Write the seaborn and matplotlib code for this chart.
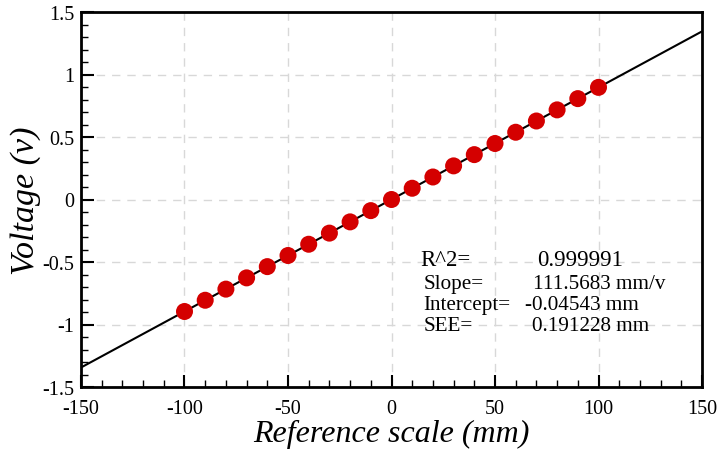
import numpy as np
import pandas as pd
import matplotlib
matplotlib.use("Agg")
import matplotlib.pyplot as plt
import seaborn as sns
from matplotlib.ticker import MultipleLocator

# Calibration readings: reference scale position (mm) vs. sensor voltage (v)
position_mm = [-100, -90, -80, -70, -60, -50, -40, -30, -20, -10, 0,
               10, 20, 30, 40, 50, 60, 70, 80, 90, 100]
voltage_v = [-0.896, -0.806, -0.717, -0.627, -0.537, -0.448, -0.358, -0.269,
             -0.179, -0.089, 0.000, 0.090, 0.180, 0.269, 0.359, 0.448, 0.538,
             0.628, 0.717, 0.807, 0.897]

# Linear fit results (position = slope * voltage + intercept)
r_squared = 0.999991
slope_mm_per_v = 111.5683
intercept_mm = -0.04543
see_mm = 0.191228
fit_range_mm = [-150, 150]

sns.set_theme(style="white")
plt.rcParams["font.family"] = ["Liberation Serif", "DejaVu Serif"]
plt.rcParams.update({"text.color": "black", "axes.labelcolor": "black",
                     "xtick.color": "black", "ytick.color": "black"})

points = pd.DataFrame({"position": position_mm, "voltage": voltage_v})
fit_x = np.array(fit_range_mm, dtype=float)
fit = pd.DataFrame({"position": fit_x,
                    "voltage": (fit_x - intercept_mm) / slope_mm_per_v})

fig = plt.figure(figsize=(7.19, 4.52), dpi=100)
ax = fig.add_axes([81 / 719, 1 - 388 / 452, 621 / 719, 375 / 452])

sns.lineplot(data=fit, x="position", y="voltage", ax=ax, color="black",
             linewidth=1.5, zorder=2)
sns.scatterplot(data=points, x="position", y="voltage", ax=ax,
                color="#d40000", s=150, edgecolor="none", zorder=3)

ax.set_xlim(-150, 150)
ax.set_ylim(-1.5, 1.5)
ax.xaxis.set_minor_locator(MultipleLocator(10))
ax.yaxis.set_minor_locator(MultipleLocator(0.1))
ax.set_xticks(np.arange(-150, 151, 50))
ax.set_xticklabels([f"{v:g}" for v in np.arange(-150, 151, 50)])
ax.set_yticks(np.arange(-1.5, 1.51, 0.5))
ax.set_yticklabels(["-1.5", "-1", "-0.5", "0", "0.5", "1", "1.5"])

ax.tick_params(axis="both", which="major", direction="in", length=9,
               width=1.5, labelsize=14.5, color="black", labelcolor="black",
               top=False, right=False, bottom=True, left=True)
ax.tick_params(axis="x", which="major", pad=9)
ax.tick_params(axis="y", which="major", pad=5)
ax.tick_params(axis="both", which="minor", direction="in", length=5,
               width=1.0, color="black", top=False, right=False,
               bottom=True, left=True)

ax.grid(True, which="major", color="#d8d8d8", linestyle=(0, (6, 5)),
        linewidth=1.0)
for side in ax.spines.values():
    side.set_color("black")
    side.set_linewidth(2.0)

ax.set_xlabel("Reference scale (mm)", fontsize=23, style="italic",
              labelpad=0, color="black")
ax.set_ylabel("Voltage (v)", fontsize=24.5, style="italic", labelpad=1,
              color="black")

# Fit statistics
ax.text(0.546, 0.341, "R^2=", transform=ax.transAxes, fontsize=16.5,
        va="center", ha="left", color="black")
ax.text(0.734, 0.341, f"{r_squared:.6f}", transform=ax.transAxes,
        fontsize=16.5, va="center", ha="left", color="black")
rows = [("Slope=", f"{slope_mm_per_v:.4f} mm/v", 0.275, 0.728),
        ("Intercept=", f"{intercept_mm:.5f} mm", 0.219, 0.715),
        ("SEE=", f"{see_mm:.6f} mm", 0.163, 0.726)]
for name, val, yy, xv in rows:
    ax.text(0.551, yy, name, transform=ax.transAxes, fontsize=15.2,
            va="center", ha="left", color="black")
    ax.text(xv, yy, val, transform=ax.transAxes, fontsize=15.2,
            va="center", ha="left", color="black")

fig.savefig("out.png", dpi=100)
